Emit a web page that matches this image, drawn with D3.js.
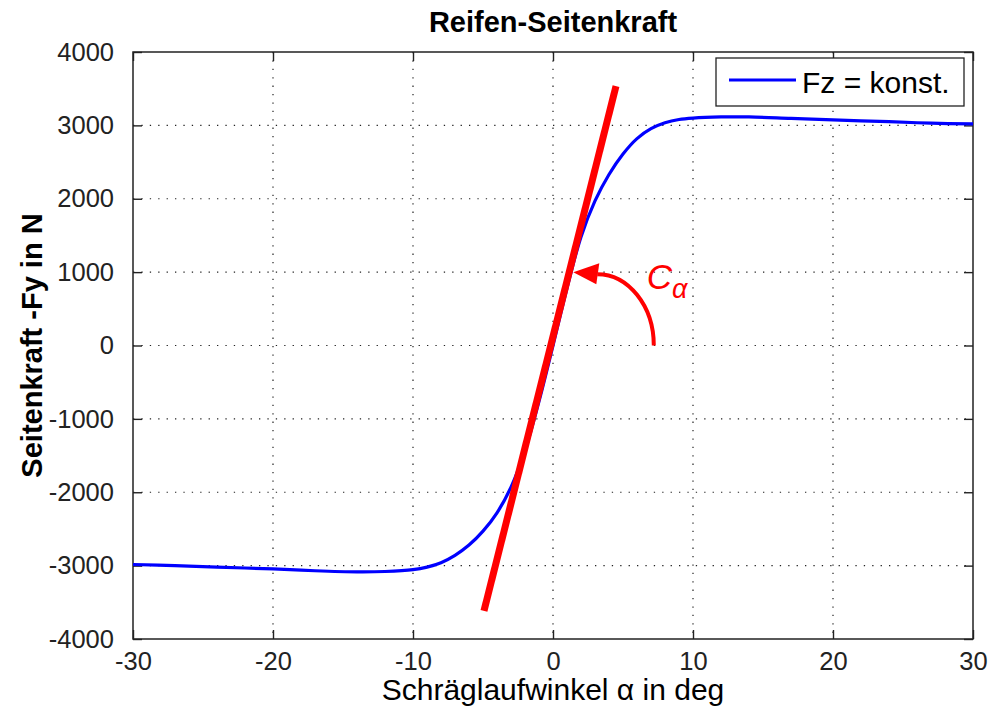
<!DOCTYPE html>
<html>
<head>
<meta charset="utf-8">
<script src="https://cdn.jsdelivr.net/npm/d3@7"></script>
<style>
  body { margin: 0; background: #fff; }
  svg { display: block; font-family: "Liberation Sans", Arial, sans-serif; }
</style>
</head>
<body>
<script>
//slip angle in deg and lateral force in N
var slipAngle = [-30, -27, -24, -20, -17, -14, -12, -10, -9, -8, -7, -6, -5, -4, -3, -2, -1,
                 0, 1, 2, 3, 4, 5, 6, 7, 8, 9, 10, 12, 14, 17, 20, 24, 27, 30];
var sideForce = [-2985, -3000, -3020, -3045, -3070, -3085, -3080, -3055, -3020, -2960, -2860, -2720, -2530, -2280, -1930, -1430, -760,
                 0, 780, 1480, 1970, 2330, 2610, 2820, 2955, 3035, 3080, 3100, 3115, 3115, 3095, 3075, 3050, 3030, 3020];

//tangent (cornering stiffness) end points
var tangentX = [-4.93, 4.5];
var tangentY = [-3618, 3536];

var xTicks = [-30, -20, -10, 0, 10, 20, 30];
var yTicks = [-4000, -3000, -2000, -1000, 0, 1000, 2000, 3000, 4000];

var width = 1000,
    height = 710,
    plotLeft = 133, plotRight = 973, plotTop = 52, plotBottom = 639;

var svg = d3.select("body")
    .append("svg")
    .attr("width", width)
    .attr("height", height);

svg.append("rect").attr("width", width).attr("height", height).attr("fill", "#fff");

var x = d3.scaleLinear().domain([-30, 30]).range([plotLeft, plotRight]);
var y = d3.scaleLinear().domain([-4000, 4000]).range([plotBottom, plotTop]);

//dotted grid
svg.append("g").selectAll("line")
    .data(xTicks.slice(1, -1))
    .enter().append("line")
    .attr("x1", function(d){ return x(d); })
    .attr("x2", function(d){ return x(d); })
    .attr("y1", plotTop).attr("y2", plotBottom)
    .attr("stroke", "#222").attr("stroke-width", 1.2)
    .attr("stroke-dasharray", "1.3,7.1");

svg.append("g").selectAll("line")
    .data(yTicks.slice(1, -1))
    .enter().append("line")
    .attr("y1", function(d){ return y(d); })
    .attr("y2", function(d){ return y(d); })
    .attr("x1", plotLeft).attr("x2", plotRight)
    .attr("stroke", "#222").attr("stroke-width", 1.2)
    .attr("stroke-dasharray", "1.3,7.1");

//axes with inward ticks on all four sides
var plain = function(d){ return String(d); };
var xAxis = svg.append("g")
    .attr("transform", "translate(0," + plotBottom + ")")
    .call(d3.axisBottom(x).tickValues(xTicks).tickFormat(plain).tickSizeInner(-9).tickSizeOuter(0).tickPadding(17));
var xTop = svg.append("g")
    .attr("transform", "translate(0," + plotTop + ")")
    .call(d3.axisTop(x).tickValues(xTicks).tickSizeInner(-9).tickSizeOuter(0).tickFormat(""));
var yAxis = svg.append("g")
    .attr("transform", "translate(" + plotLeft + ",0)")
    .call(d3.axisLeft(y).tickValues(yTicks).tickFormat(plain).tickSizeInner(-9).tickSizeOuter(0).tickPadding(19));
var yRight = svg.append("g")
    .attr("transform", "translate(" + plotRight + ",0)")
    .call(d3.axisRight(y).tickValues(yTicks).tickSizeInner(-9).tickSizeOuter(0).tickFormat(""));

[xAxis, xTop, yAxis, yRight].forEach(function(g){
    g.select(".domain").remove();
    g.selectAll("line").attr("stroke", "#222").attr("stroke-width", 1.4);
    g.selectAll("text")
        .attr("fill", "#222")
        .style("font-size", "25.5px")
        .style("font-family", "'Liberation Sans', Arial, sans-serif");
});
xAxis.selectAll("text").attr("dy", "0.55em");

//frame
svg.append("rect")
    .attr("x", plotLeft).attr("y", plotTop)
    .attr("width", plotRight - plotLeft).attr("height", plotBottom - plotTop)
    .attr("fill", "none").attr("stroke", "#222").attr("stroke-width", 1.5);

//lateral force curve
var line = d3.line()
    .x(function(d, i){ return x(slipAngle[i]); })
    .y(function(d){ return y(d); })
    .curve(d3.curveCatmullRom.alpha(0.5));

svg.append("path")
    .datum(sideForce)
    .attr("d", line)
    .attr("fill", "none")
    .attr("stroke", "#0000ff")
    .attr("stroke-width", 3.2);

//tangent at origin
svg.append("line")
    .attr("x1", x(tangentX[0])).attr("y1", y(tangentY[0]))
    .attr("x2", x(tangentX[1])).attr("y2", y(tangentY[1]))
    .attr("stroke", "#ff0000")
    .attr("stroke-width", 7);

//angle arrow
var tip = [x(1.45), y(1000)],
    arcStart = [x(7.2), y(0)],
    arcEnd = [tip[0] + 24, tip[1] + 2];
svg.append("path")
    .attr("d", "M" + arcStart[0] + "," + arcStart[1] +
        " A" + (arcStart[0] - arcEnd[0]) + "," + (arcStart[1] - arcEnd[1]) +
        " 0 0 0 " + arcEnd[0] + "," + arcEnd[1])
    .attr("fill", "none")
    .attr("stroke", "#ff0000")
    .attr("stroke-width", 4);

svg.append("path")
    .attr("d", "M" + tip[0] + "," + tip[1] +
        " L" + (tip[0] + 26) + "," + (tip[1] - 9) +
        " L" + (tip[0] + 23) + "," + (tip[1] + 12) + " Z")
    .attr("fill", "#ff0000");

var ca = svg.append("text")
    .attr("x", x(6.7))
    .attr("y", tip[1] + 17)
    .attr("fill", "#ff0000")
    .style("font-style", "italic")
    .style("font-size", "35px")
    .text("C");
ca.append("tspan")
    .attr("dy", 9)
    .style("font-size", "27px")
    .text("α");

//legend
var legend = svg.append("g").attr("transform", "translate(716,58)");
legend.append("rect")
    .attr("width", 248).attr("height", 48)
    .attr("fill", "#fff").attr("stroke", "#222").attr("stroke-width", 1.3);
legend.append("line")
    .attr("x1", 13).attr("x2", 80).attr("y1", 22).attr("y2", 22)
    .attr("stroke", "#0000ff").attr("stroke-width", 3);
legend.append("text")
    .attr("x", 86).attr("y", 35)
    .style("font-size", "30px")
    .attr("fill", "#000")
    .text("Fz = konst.");

//title and axis labels
svg.append("text")
    .attr("x", (plotLeft + plotRight) / 2).attr("y", 32)
    .attr("text-anchor", "middle")
    .style("font-size", "29px").style("font-weight", "bold")
    .text("Reifen-Seitenkraft");

svg.append("text")
    .attr("x", (plotLeft + plotRight) / 2).attr("y", 700)
    .attr("text-anchor", "middle")
    .style("font-size", "30px")
    .text("Schräglaufwinkel α in deg");

svg.append("text")
    .attr("transform", "translate(42," + ((plotTop + plotBottom) / 2) + ") rotate(-90)")
    .attr("text-anchor", "middle")
    .style("font-size", "29px").style("font-weight", "bold")
    .text("Seitenkraft -Fy in N");
</script>
</body>
</html>
